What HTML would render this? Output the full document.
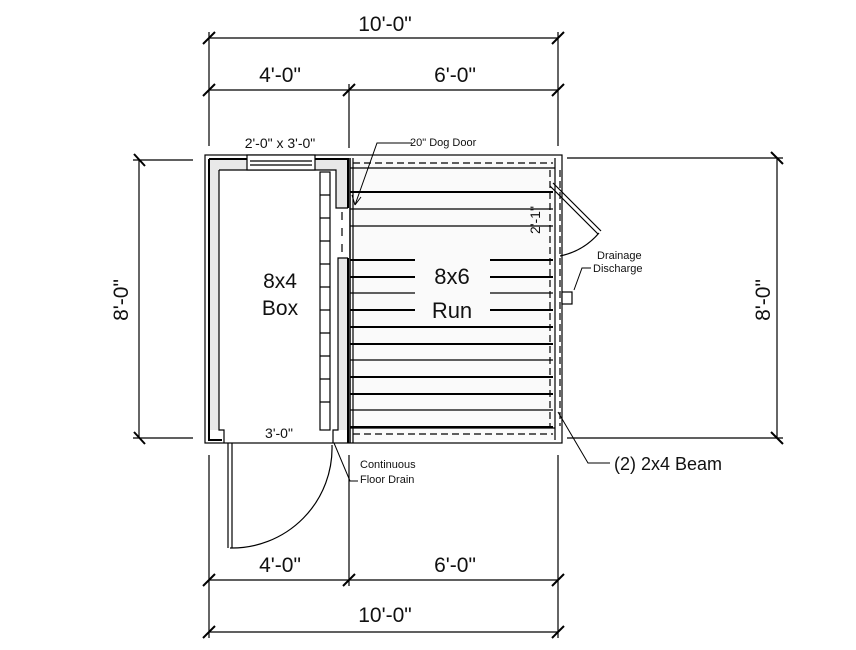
<!DOCTYPE html>
<html><head><meta charset="utf-8"><style>
html,body{margin:0;padding:0;background:#fff;}
svg{display:block}
text{font-family:"Liberation Sans",sans-serif;fill:#111}
</style></head><body>
<svg width="856" height="650" viewBox="0 0 856 650" xmlns="http://www.w3.org/2000/svg">
<g stroke="#000" fill="none" stroke-width="1.2">
<line x1="209" y1="38" x2="558" y2="38"/>
<line x1="209" y1="90" x2="558" y2="90"/>
<line x1="209" y1="32" x2="209" y2="146"/>
<line x1="558" y1="32" x2="558" y2="146"/>
<line x1="349" y1="84" x2="349" y2="148"/>
<path d="M203 44l12-12M552 44l12-12M203 96l12-12M343 96l12-12M552 96l12-12" stroke-width="2"/>
<line x1="209" y1="580" x2="558" y2="580"/>
<line x1="209" y1="632" x2="558" y2="632"/>
<line x1="209" y1="455" x2="209" y2="638"/>
<line x1="349" y1="455" x2="349" y2="586"/>
<line x1="558" y1="455" x2="558" y2="638"/>
<path d="M203 586l12-12M343 586l12-12M552 586l12-12M203 638l12-12M552 638l12-12" stroke-width="2"/>
<line x1="139" y1="160" x2="139" y2="438"/>
<line x1="133" y1="160" x2="193" y2="160"/>
<line x1="133" y1="438" x2="193" y2="438"/>
<path d="M134 154l11 12M134 432l11 12" stroke-width="2"/>
<line x1="777" y1="158" x2="777" y2="438"/>
<line x1="567" y1="158" x2="783" y2="158"/>
<line x1="567" y1="438" x2="783" y2="438"/>
<path d="M771 152l12 12M771 432l12 12" stroke-width="2"/>
</g>
<g stroke="#000" stroke-width="1.2">
<rect x="205" y="155" width="357" height="288" fill="#fff"/>
<rect x="209" y="159" width="10" height="271" fill="#e8e8e8" stroke="none"/>
<rect x="209" y="159" width="139" height="11" fill="#e8e8e8" stroke="none"/>
<rect x="336" y="159" width="12" height="49" fill="#e8e8e8" stroke="none"/>
<rect x="338" y="258" width="10" height="172" fill="#e8e8e8" stroke="none"/>
<path d="M209 159H348V208" fill="none" stroke-width="2"/>
<path d="M348 258V443" fill="none" stroke-width="2"/>
<path d="M209 159V440H222" fill="none" stroke-width="2"/>
<path d="M219 170H336V208H348M219 170V430H224V443" fill="none"/>
<path d="M348 258H338V430H333V443" fill="none"/>
<rect x="247" y="155" width="68" height="15" fill="#fff"/>
<line x1="250" y1="161" x2="312" y2="161"/><line x1="250" y1="165" x2="312" y2="165"/>
<path d="M342 212V256" stroke-dasharray="8,8" fill="none"/>
<rect x="320" y="172" width="10" height="258" fill="#fff"/>
<path d="M320 195h10M320 218h10M320 241h10M320 264h10M320 287h10M320 310h10M320 333h10M320 356h10M320 379h10M320 402h10"/>
<rect x="351" y="158" width="204" height="282" fill="#fafafa" stroke="none"/>
<line x1="350" y1="158" x2="350" y2="443" stroke-width="1.5"/>
<line x1="353" y1="158" x2="353" y2="443"/>
<line x1="350" y1="168" x2="555" y2="168"/>
<line x1="350" y1="428" x2="555" y2="428"/>
<path d="M353 163H553M353 434H553" stroke-dasharray="7,4" fill="none"/>
<line x1="555" y1="158" x2="555" y2="440"/>
<path d="M550 170V426M560 170V426" stroke-dasharray="7,4" fill="none"/>
<g fill="none">
<path d="M350 192H553" stroke-width="2"/>
<path d="M350 209H553"/>
<path d="M350 226H553"/>
<path d="M350 260H415M490 260H553" stroke-width="2"/>
<path d="M350 277H415M490 277H553" stroke-width="2"/>
<path d="M350 293H415M490 293H553"/>
<path d="M350 310H415M490 310H553" stroke-width="2"/>
<path d="M350 327H553" stroke-width="2"/>
<path d="M350 344H553" stroke-width="2"/>
<path d="M350 360H553"/>
<path d="M350 377H553" stroke-width="2"/>
<path d="M350 394H553" stroke-width="2"/>
<path d="M350 410H553"/>
<path d="M350 427H553" stroke-width="2"/>
</g>
<path d="M228 443V548M232 443V548" fill="none"/>
<path d="M230 548A100 100 0 0 0 332 445" fill="none"/>
<path d="M550 186L598 234M553 183L601 231" fill="none"/>
<path d="M599 233A70 70 0 0 1 560 256" fill="none"/>
<rect x="562" y="292" width="10" height="12" fill="#fff"/>
<path d="M412 143H377L355 205M355 205l-3-10M355 205l6-8" fill="none" stroke-width="1"/>
<path d="M591 268H582L574 290" fill="none" stroke-width="1"/>
<path d="M610 463H588L558 412" fill="none" stroke-width="1"/>
<path d="M358 481H350L334 443" fill="none" stroke-width="1"/>
</g>
<g font-size="21" text-anchor="middle">
<text x="385" y="31">10'-0"</text>
<text x="280" y="82">4'-0"</text>
<text x="455" y="82">6'-0"</text>
<text x="280" y="572">4'-0"</text>
<text x="455" y="572">6'-0"</text>
<text x="385" y="622">10'-0"</text>
<text transform="translate(128,300) rotate(-90)">8'-0"</text>
<text transform="translate(770,300) rotate(-90)">8'-0"</text>
<text x="280" y="288">8x4</text>
<text x="280" y="315">Box</text>
<text x="452" y="284" font-size="22">8x6</text>
<text x="452" y="318" font-size="22">Run</text>
</g>
<g font-size="14" text-anchor="middle">
<text x="280" y="148">2'-0" x 3'-0"</text>
<text x="279" y="438">3'-0"</text>
<text transform="translate(540,220) rotate(-90)">2'-1"</text>
</g>
<g font-size="11">
<text x="410" y="146">20" Dog Door</text>
<text x="597" y="259">Drainage</text>
<text x="593" y="272">Discharge</text>
<text x="360" y="468">Continuous</text>
<text x="360" y="483">Floor Drain</text>
<text x="614" y="470" font-size="18">(2) 2x4 Beam</text>
</g>
</svg>
</body></html>
